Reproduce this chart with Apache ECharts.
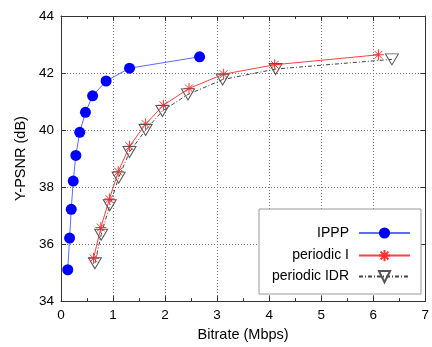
<!DOCTYPE html>
<html><head><meta charset="utf-8">
<script src="https://cdn.jsdelivr.net/npm/echarts@6/dist/echarts.min.js"></script>
<style>html,body{margin:0;padding:0;background:#fff}#c{width:432px;height:347px}</style>
</head><body><div id="c"></div>
<script>
const seriesNames = ['IPPP', 'periodic I', 'periodic IDR'];
const ipppX = [0.13, 0.165, 0.197, 0.235, 0.285, 0.36, 0.47, 0.607, 0.867, 1.317, 2.664];
const ipppY = [35.1, 36.21, 37.22, 38.21, 39.11, 39.92, 40.62, 41.2, 41.72, 42.17, 42.57];
const perIX = [0.626, 0.766, 0.93, 1.1, 1.317, 1.626, 1.968, 2.46, 3.125, 4.106, 6.1];
const perIY = [35.5, 36.58, 37.58, 38.54, 39.43, 40.21, 40.87, 41.46, 41.96, 42.29, 42.64];
const idrX = [0.652, 0.772, 0.937, 1.108, 1.317, 1.626, 1.949, 2.44, 3.106, 4.125, 6.36];
const idrY = [35.33, 36.33, 37.36, 38.33, 39.23, 40.0, 40.67, 41.25, 41.77, 42.14, 42.48];
const xTitle = 'Bitrate (Mbps)';
const yTitle = 'Y-PSNR (dB)';

const pairs = (xs, ys) => xs.map((x, i) => [x, ys[i]]);
const FONT = 'Liberation Sans, Arial, sans-serif';
const axisCol = '#333';
const asterisk = 'path://M0,-10L0,10M-7.07,-7.07L7.07,7.07M-7.07,7.07L7.07,-7.07M-10,0L10,0';

const chart = echarts.init(document.getElementById('c'), null, {renderer: 'canvas'});
const baseX = {
  type: 'value', min: 0, max: 7, interval: 1,
  axisLine: {show: true, onZero: false, lineStyle: {color: axisCol, width: 1}},
  axisTick: {show: true, inside: true, length: 5, lineStyle: {color: axisCol}},
  minorTick: {show: true, splitNumber: 2, length: 3, lineStyle: {color: axisCol}},
  splitLine: {show: false}
};
const baseY = {
  type: 'value', min: 34, max: 44, interval: 2,
  axisLine: {show: true, onZero: false, lineStyle: {color: axisCol, width: 1}},
  axisTick: {show: true, inside: true, length: 5, lineStyle: {color: axisCol}},
  splitLine: {show: false}
};
const legendCommon = {
  orient: 'horizontal', right: 16, align: 'right', itemWidth: 51, itemHeight: 14,
  textStyle: {fontFamily: FONT, fontSize: 14, color: '#000', padding: [0, 5, 0, 0]},
  selectedMode: false, z: 10
};
chart.setOption({
  animation: false,
  backgroundColor: '#fff',
  grid: {left: 61, right: 2, top: 16, bottom: 43, containLabel: false},
  xAxis: [
    Object.assign({}, baseX, {
      position: 'bottom',
      name: xTitle, nameLocation: 'middle', nameGap: 25,
      nameTextStyle: {fontFamily: FONT, fontSize: 14.5, color: '#000'},
      axisLabel: {fontFamily: FONT, fontSize: 13.5, color: '#000', margin: 7},
      splitLine: {show: true, lineStyle: {color: '#777', type: [1, 2], width: 1}}
    }),
    Object.assign({}, baseX, {position: 'top', axisLabel: {show: false}})
  ],
  yAxis: [
    Object.assign({}, baseY, {
      position: 'left',
      name: yTitle, nameLocation: 'middle', nameGap: 30,
      nameTextStyle: {fontFamily: FONT, fontSize: 14.5, color: '#000'},
      axisLabel: {fontFamily: FONT, fontSize: 13.5, color: '#000', margin: 7},
      splitLine: {show: true, lineStyle: {color: '#777', type: [1, 2], width: 1}}
    }),
    Object.assign({}, baseY, {position: 'right', axisLabel: {show: false}})
  ],
  legend: [
    Object.assign({}, legendCommon, {top: 221, data: [seriesNames[0]]}),
    Object.assign({}, legendCommon, {top: 242.5, data: [seriesNames[1]]}),
    Object.assign({}, legendCommon, {top: 263.5, data: [seriesNames[2]]})
  ],
  graphic: [{
    type: 'rect', z: 5, shape: {x: 259, y: 209, width: 162, height: 85},
    style: {fill: '#fff', stroke: '#999', lineWidth: 1}
  }],
  series: [
    {
      name: seriesNames[0], type: 'line', data: pairs(ipppX, ipppY),
      symbol: 'circle', symbolSize: 11,
      itemStyle: {color: '#0000ff'},
      lineStyle: {color: '#5b6cff', width: 1}
    },
    {
      name: seriesNames[1], type: 'line', data: pairs(perIX, perIY),
      symbol: asterisk, symbolSize: 11,
      itemStyle: {color: 'none', borderColor: '#ff3030', borderWidth: 1},
      lineStyle: {color: '#ff4040', width: 1}
    },
    {
      name: seriesNames[2], type: 'line', data: pairs(idrX, idrY),
      symbol: 'triangle', symbolRotate: 180, symbolSize: [13, 11],
      itemStyle: {color: 'none', borderColor: '#555', borderWidth: 1},
      lineStyle: {color: '#444', width: 1, type: [4, 2, 1, 2]}
    }
  ]
});
</script></body></html>
